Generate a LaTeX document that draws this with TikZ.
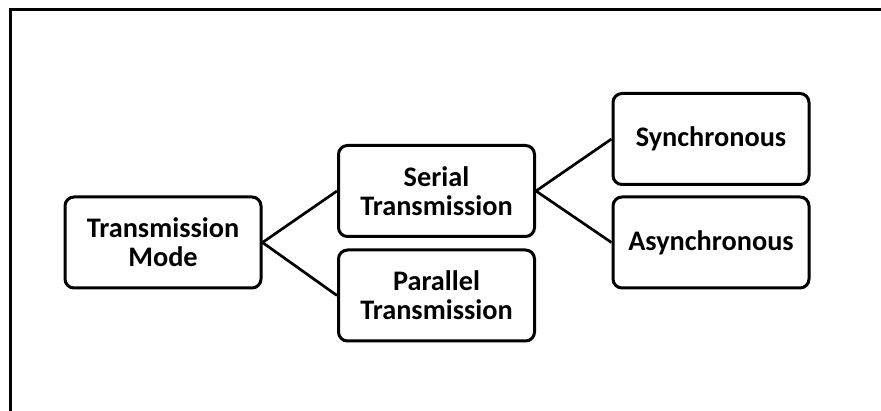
\documentclass[tikz,border=0pt]{standalone}
\usepackage{fontspec}
\setmainfont{Carlito}
\begin{document}
\begin{tikzpicture}[x=1pt,y=-1pt,
  box/.style={draw=black,line width=3pt,rounded corners=9pt,minimum width=196pt,minimum height=91pt,inner sep=0pt,align=center,font=\fontsize{28.3}{29}\selectfont\bfseries},
  link/.style={line width=2.7pt}]
\useasboundingbox (0,0) rectangle (881,411);
\coordinate (tl) at (10,10);
\coordinate (tr) at (881,10);
\coordinate (bl) at (10,411);
\draw[line width=3pt] (tr) -- (tl) -- (bl);
\node[box] (tm) at (163,242.5) {Transmission\\Mode};
\node[box] (ser) at (436.5,191) {Serial\\Transmission};
\node[box] (par) at (436.5,295.5) {Parallel\\Transmission};
\node[box] (syn) at (711,139) {Synchronous};
\node[box] (asy) at (711,242.5) {Asynchronous};
\draw[link] (tm.east) -- (ser.west);
\draw[link] (tm.east) -- (par.west);
\draw[link] (ser.east) -- (syn.west);
\draw[link] (ser.east) -- (asy.west);
\end{tikzpicture}
\end{document}
